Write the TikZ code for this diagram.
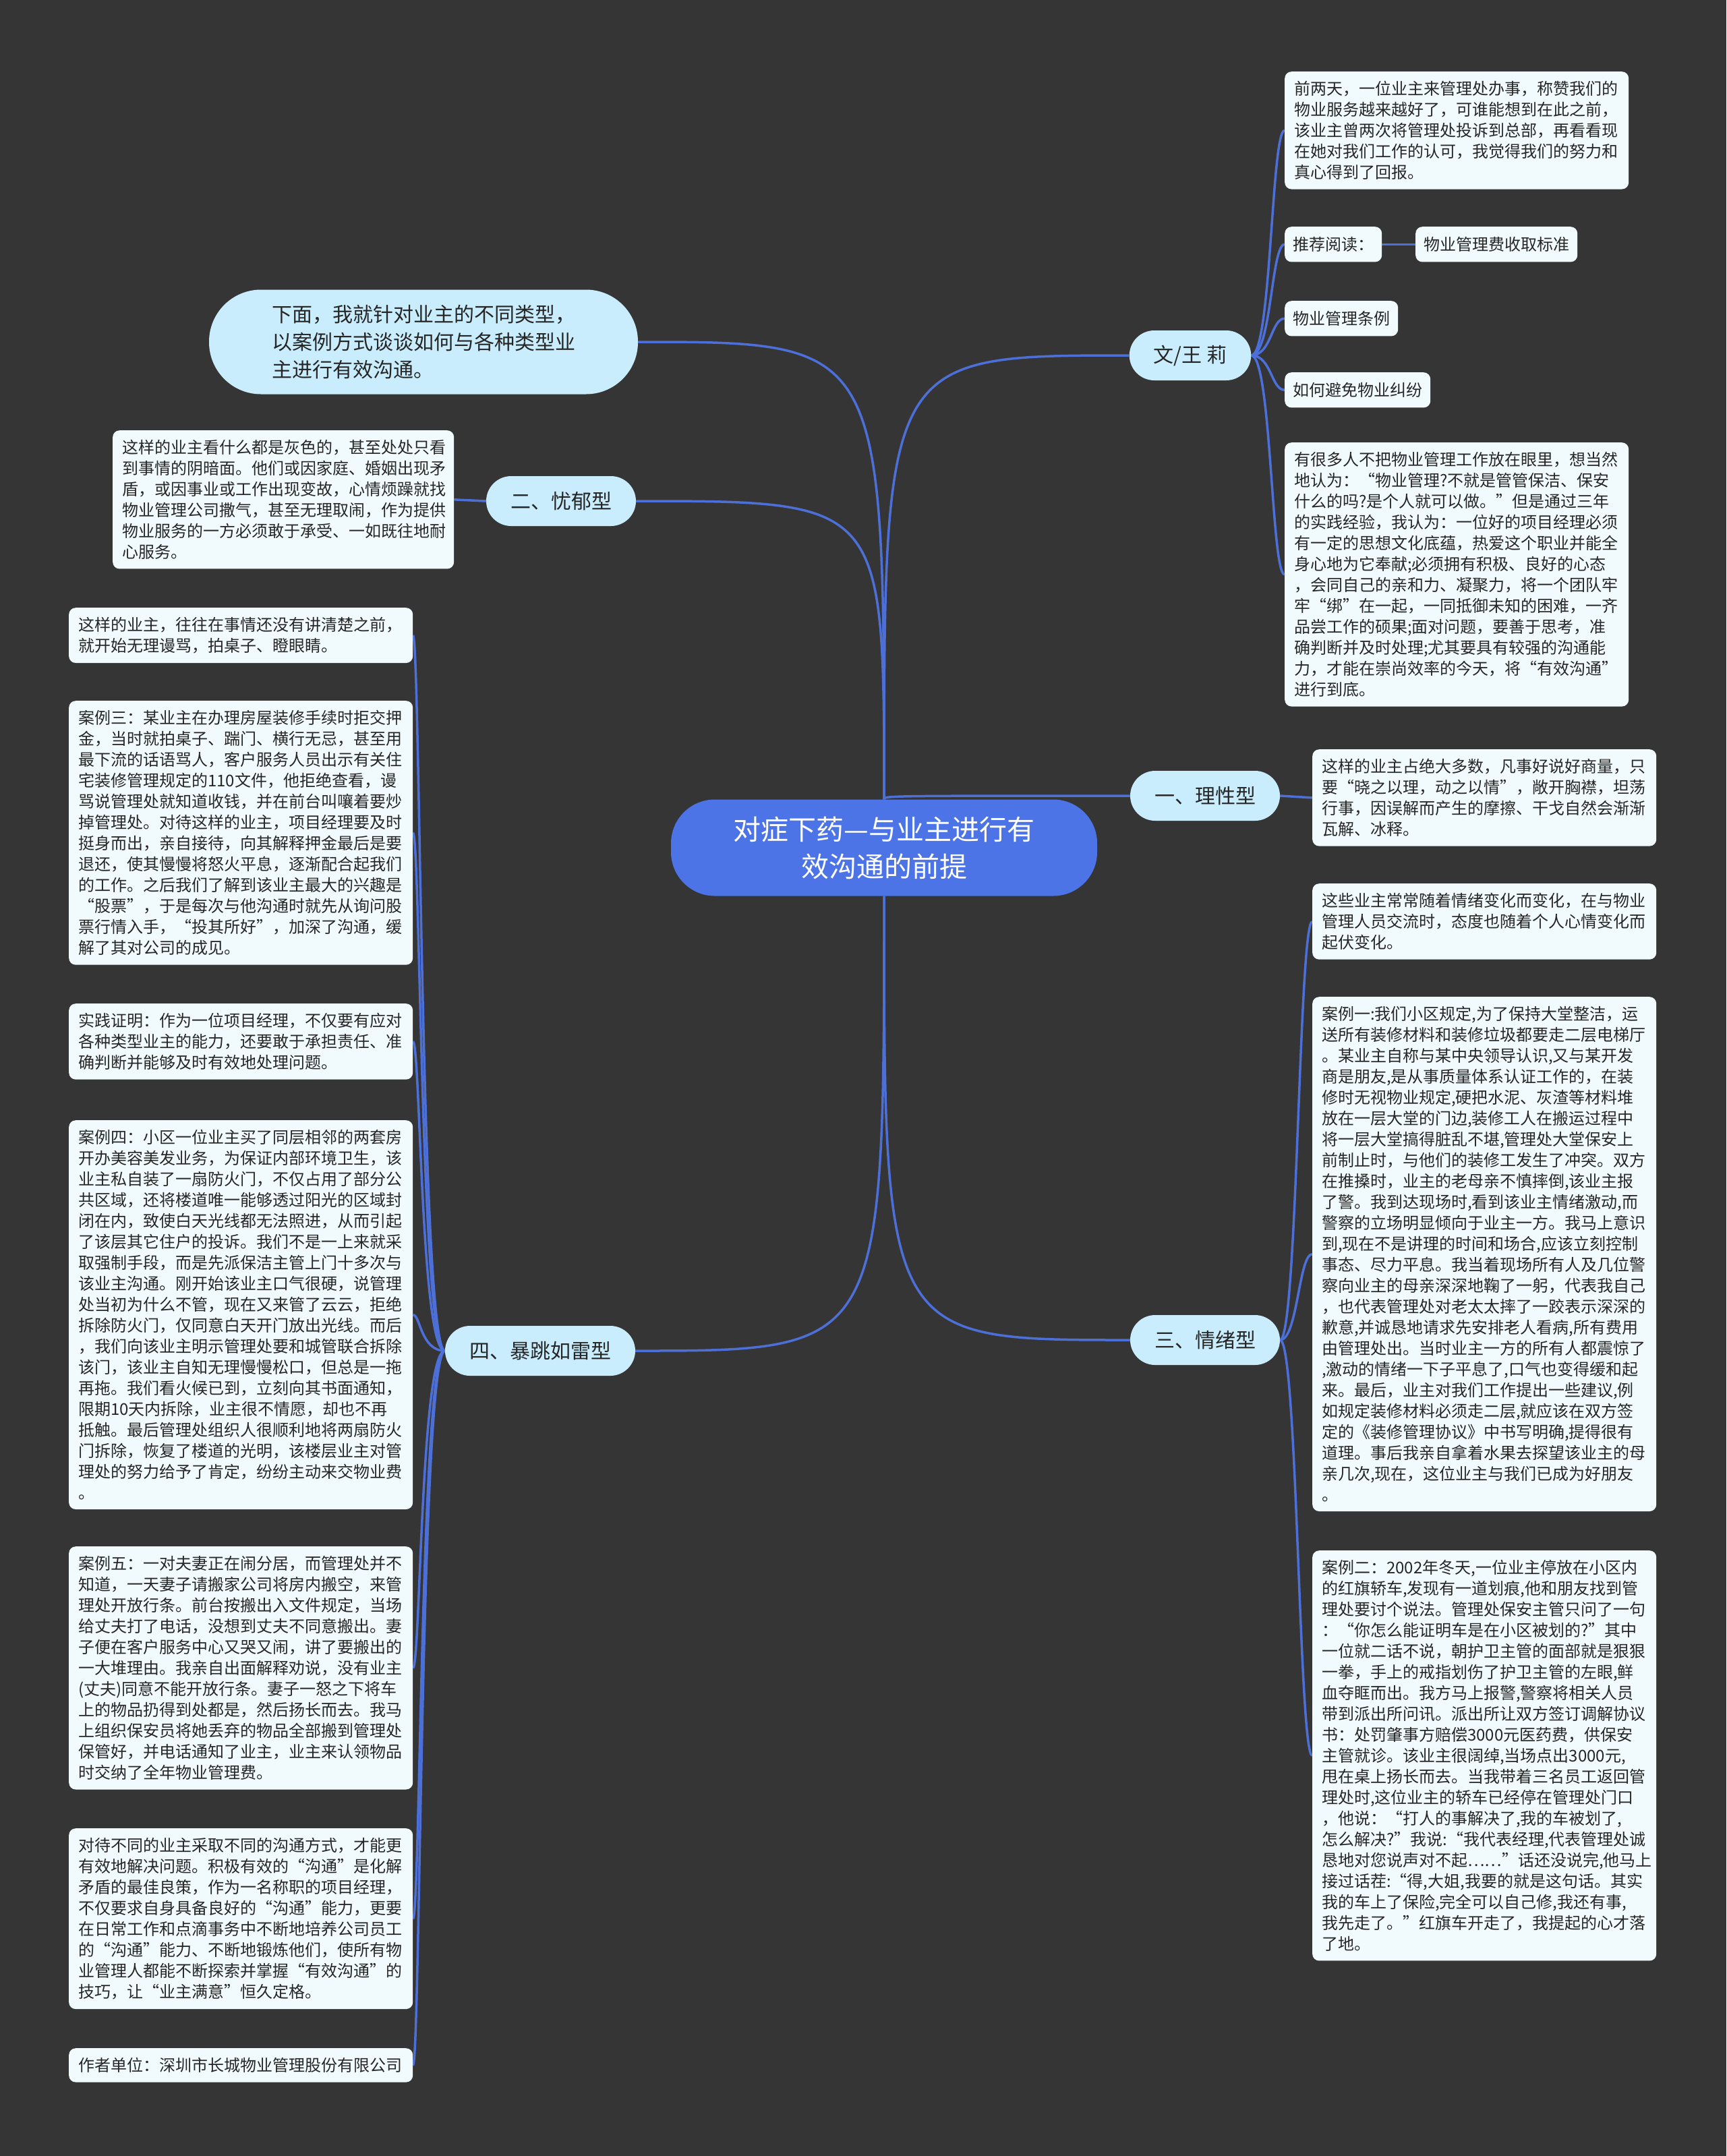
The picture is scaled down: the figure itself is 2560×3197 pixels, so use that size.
\documentclass[tikz,border=0pt]{standalone}
\usepackage{fontspec}
\setmainfont{Noto Sans CJK SC}
\usetikzlibrary{positioning}
\definecolor{canvas}{HTML}{353535}
\definecolor{linkblue}{HTML}{4D6FD8}
\definecolor{hubbg}{HTML}{4C74E6}
\definecolor{topicbg}{HTML}{C9EDFC}
\definecolor{leafbg}{HTML}{F1FBFE}
\definecolor{ink}{HTML}{262626}
\pgfdeclarelayer{bg}
\pgfdeclarelayer{links}
\pgfsetlayers{bg,links,main}
\tikzset{
  leaf/.style={fill=leafbg, rounded corners=10pt, text=ink, anchor=north west, align=left, text width=482pt, inner xsep=14pt, inner ysep=14pt, font=\fontsize{24}{31}\selectfont},
  tag/.style={fill=leafbg, rounded corners=10pt, text=ink, anchor=north west, inner xsep=12pt, inner ysep=15pt, font=\fontsize{24}{31}\selectfont},
  topic/.style={fill=topicbg, rounded corners=37pt, text=ink, minimum height=74pt, inner xsep=36pt, inner ysep=10pt, font=\fontsize{30}{41}\selectfont},
  hub/.style={fill=hubbg, rounded corners=65pt, text=white, align=center, minimum width=632pt, minimum height=143pt, font=\fontsize{41}{55}\selectfont},
  link/.style={draw=linkblue, line width=3.5pt},
}

\begin{document}
\begin{tikzpicture}[x=1pt, y=-1pt]
  \begin{pgfonlayer}{bg}
    \fill[canvas] (0,0) rectangle (2560,3197);
  \end{pgfonlayer}
  \useasboundingbox (0,0) rectangle (2560,3197);

  % centre
  \node[hub] (root) at (1311,1257) {对症下药—与业主进行有\\效沟通的前提};

  % first level
  \node[topic] (wang) at (1765,527) {文/王 莉};
  \node[topic] (rational) at (1787,1180) {一、理性型};
  \node[topic] (mood) at (1787,1987) {三、情绪型};
  \node[topic, align=left, minimum width=636pt, minimum height=155pt, rounded corners=77pt] (intro) at (628,507)
    {下面，我就针对业主的不同类型，\\以案例方式谈谈如何与各种类型业\\主进行有效沟通。};
  \node[topic] (gloomy) at (832,743) {二、忧郁型};
  \node[topic] (rage) at (801,2003) {四、暴跳如雷型};

  % right: 文/王 莉
  \node[leaf] (praise) at (1905,106) {前两天，一位业主来管理处办事，称赞我们的\\物业服务越来越好了，可谁能想到在此之前，\\该业主曾两次将管理处投诉到总部，再看看现\\在她对我们工作的认可，我觉得我们的努力和\\真心得到了回报。};
  \node[tag] (rec) at (1905,336) {推荐阅读：};
  \node[tag] (fee) at (2099,336) {物业管理费收取标准};
  \node[tag] (rule) at (1905,446) {物业管理条例};
  \node[tag] (avoid) at (1905,552) {如何避免物业纠纷};
  \node[leaf] (many) at (1905,656) {有很多人不把物业管理工作放在眼里，想当然\\地认为：“物业管理?不就是管管保洁、保安\\什么的吗?是个人就可以做。”但是通过三年\\的实践经验，我认为：一位好的项目经理必须\\有一定的思想文化底蕴，热爱这个职业并能全\\身心地为它奉献;必须拥有积极、良好的心态\\，会同自己的亲和力、凝聚力，将一个团队牢\\牢“绑”在一起，一同抵御未知的困难，一齐\\品尝工作的硕果;面对问题，要善于思考，准\\确判断并及时处理;尤其要具有较强的沟通能\\力，才能在崇尚效率的今天，将“有效沟通”\\进行到底。};

  % right: 理性型, 情绪型
  \node[leaf] (rtxt) at (1946,1111) {这样的业主占绝大多数，凡事好说好商量，只\\要“晓之以理，动之以情”，敞开胸襟，坦荡\\行事，因误解而产生的摩擦、干戈自然会渐渐\\瓦解、冰释。};
  \node[leaf] (mtxt) at (1946,1310) {这些业主常常随着情绪变化而变化，在与物业\\管理人员交流时，态度也随着个人心情变化而\\起伏变化。};
  \node[leaf] (case1) at (1946,1478) {案例一:我们小区规定,为了保持大堂整洁，运\\送所有装修材料和装修垃圾都要走二层电梯厅\\。某业主自称与某中央领导认识,又与某开发\\商是朋友,是从事质量体系认证工作的，在装\\修时无视物业规定,硬把水泥、灰渣等材料堆\\放在一层大堂的门边,装修工人在搬运过程中\\将一层大堂搞得脏乱不堪,管理处大堂保安上\\前制止时，与他们的装修工发生了冲突。双方\\在推搡时，业主的老母亲不慎摔倒,该业主报\\了警。我到达现场时,看到该业主情绪激动,而\\警察的立场明显倾向于业主一方。我马上意识\\到,现在不是讲理的时间和场合,应该立刻控制\\事态、尽力平息。我当着现场所有人及几位警\\察向业主的母亲深深地鞠了一躬，代表我自己\\，也代表管理处对老太太摔了一跤表示深深的\\歉意,并诚恳地请求先安排老人看病,所有费用\\由管理处出。当时业主一方的所有人都震惊了\\,激动的情绪一下子平息了,口气也变得缓和起\\来。最后，业主对我们工作提出一些建议,例\\如规定装修材料必须走二层,就应该在双方签\\定的《装修管理协议》中书写明确,提得很有\\道理。事后我亲自拿着水果去探望该业主的母\\亲几次,现在，这位业主与我们已成为好朋友\\。};
  \node[leaf] (case2) at (1946,2299) {案例二：2002年冬天,一位业主停放在小区内\\的红旗轿车,发现有一道划痕,他和朋友找到管\\理处要讨个说法。管理处保安主管只问了一句\\：“你怎么能证明车是在小区被划的?”其中\\一位就二话不说，朝护卫主管的面部就是狠狠\\一拳，手上的戒指划伤了护卫主管的左眼,鲜\\血夺眶而出。我方马上报警,警察将相关人员\\带到派出所问讯。派出所让双方签订调解协议\\书：处罚肇事方赔偿3000元医药费，供保安\\主管就诊。该业主很阔绰,当场点出3000元,\\甩在桌上扬长而去。当我带着三名员工返回管\\理处时,这位业主的轿车已经停在管理处门口\\，他说：“打人的事解决了,我的车被划了,\\怎么解决?”我说:“我代表经理,代表管理处诚\\恳地对您说声对不起……”话还没说完,他马上\\接过话茬:“得,大姐,我要的就是这句话。其实\\我的车上了保险,完全可以自己修,我还有事,\\我先走了。”红旗车开走了，我提起的心才落\\了地。};

  % left: 忧郁型
  \node[leaf, text width=478pt] (gtxt) at (167,638) {这样的业主看什么都是灰色的，甚至处处只看\\到事情的阴暗面。他们或因家庭、婚姻出现矛\\盾，或因事业或工作出现变故，心情烦躁就找\\物业管理公司撒气，甚至无理取闹，作为提供\\物业服务的一方必须敢于承受、一如既往地耐\\心服务。};

  % left: 暴跳如雷型
  \node[leaf] (rude) at (102,901) {这样的业主，往往在事情还没有讲清楚之前，\\就开始无理谩骂，拍桌子、瞪眼睛。};
  \node[leaf] (case3) at (102,1039) {案例三：某业主在办理房屋装修手续时拒交押\\金，当时就拍桌子、踹门、横行无忌，甚至用\\最下流的话语骂人，客户服务人员出示有关住\\宅装修管理规定的110文件，他拒绝查看，谩\\骂说管理处就知道收钱，并在前台叫嚷着要炒\\掉管理处。对待这样的业主，项目经理要及时\\挺身而出，亲自接待，向其解释押金最后是要\\退还，使其慢慢将怒火平息，逐渐配合起我们\\的工作。之后我们了解到该业主最大的兴趣是\\“股票”，于是每次与他沟通时就先从询问股\\票行情入手，“投其所好”，加深了沟通，缓\\解了其对公司的成见。};
  \node[leaf] (proof) at (102,1488) {实践证明：作为一位项目经理，不仅要有应对\\各种类型业主的能力，还要敢于承担责任、准\\确判断并能够及时有效地处理问题。};
  \node[leaf] (case4) at (102,1661) {案例四：小区一位业主买了同层相邻的两套房\\开办美容美发业务，为保证内部环境卫生，该\\业主私自装了一扇防火门，不仅占用了部分公\\共区域，还将楼道唯一能够透过阳光的区域封\\闭在内，致使白天光线都无法照进，从而引起\\了该层其它住户的投诉。我们不是一上来就采\\取强制手段，而是先派保洁主管上门十多次与\\该业主沟通。刚开始该业主口气很硬，说管理\\处当初为什么不管，现在又来管了云云，拒绝\\拆除防火门，仅同意白天开门放出光线。而后\\，我们向该业主明示管理处要和城管联合拆除\\该门，该业主自知无理慢慢松口，但总是一拖\\再拖。我们看火候已到，立刻向其书面通知，\\限期10天内拆除，业主很不情愿，却也不再\\抵触。最后管理处组织人很顺利地将两扇防火\\门拆除，恢复了楼道的光明，该楼层业主对管\\理处的努力给予了肯定，纷纷主动来交物业费\\。};
  \node[leaf] (case5) at (102,2293) {案例五：一对夫妻正在闹分居，而管理处并不\\知道，一天妻子请搬家公司将房内搬空，来管\\理处开放行条。前台按搬出入文件规定，当场\\给丈夫打了电话，没想到丈夫不同意搬出。妻\\子便在客户服务中心又哭又闹，讲了要搬出的\\一大堆理由。我亲自出面解释劝说，没有业主\\(丈夫)同意不能开放行条。妻子一怒之下将车\\上的物品扔得到处都是，然后扬长而去。我马\\上组织保安员将她丢弃的物品全部搬到管理处\\保管好，并电话通知了业主，业主来认领物品\\时交纳了全年物业管理费。};
  \node[leaf] (treat) at (102,2711) {对待不同的业主采取不同的沟通方式，才能更\\有效地解决问题。积极有效的“沟通”是化解\\矛盾的最佳良策，作为一名称职的项目经理，\\不仅要求自身具备良好的“沟通”能力，更要\\在日常工作和点滴事务中不断地培养公司员工\\的“沟通”能力、不断地锻炼他们，使所有物\\业管理人都能不断探索并掌握“有效沟通”的\\技巧，让“业主满意”恒久定格。};
  \node[leaf] (org) at (102,3037) {作者单位：深圳市长城物业管理股份有限公司};

  % connectors
  \begin{pgfonlayer}{links}
    \draw[link] (root.north) .. controls (root.north |- wang.west) .. (wang.west);
    \draw[link] (root.north) .. controls (root.north |- rational.west) .. (rational.west);
    \draw[link] (root.north) .. controls (root.north |- intro.east) .. (intro.east);
    \draw[link] (root.north) .. controls (root.north |- gloomy.east) .. (gloomy.east);
    \draw[link] (root.south) .. controls (root.south |- mood.west) .. (mood.west);
    \draw[link] (root.south) .. controls (root.south |- rage.east) .. (rage.east);

    \foreach \kid in {praise, rec, rule, avoid, many}
      \draw[link] (wang.east) .. controls +(30,0) and +(-20,0) .. (\kid.west);
    \draw[link] (rec.east) -- (fee.west);
    \draw[link] (rational.east) -- (rtxt.west);
    \foreach \kid in {mtxt, case1, case2}
      \draw[link] (mood.east) .. controls +(26,0) and +(-20,0) .. (\kid.west);
    \draw[link] (gloomy.west) -- (gtxt.east);
    \foreach \kid in {rude, case3, proof, case4, case5, treat, org}
      \draw[link] (rage.west) .. controls +(-36,0) and +(11,0) .. (\kid.east);
  \end{pgfonlayer}
\end{tikzpicture}
\end{document}
